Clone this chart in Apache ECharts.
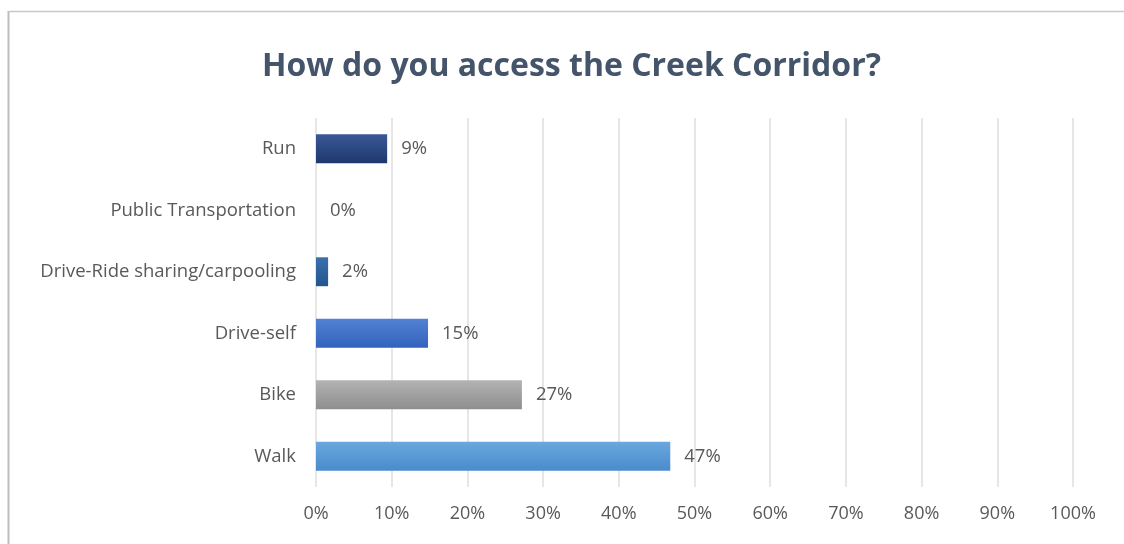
<!DOCTYPE html>
<html>
<head>
<meta charset="utf-8">
<script src="https://cdn.jsdelivr.net/npm/echarts@6/dist/echarts.min.js"></script>
<style>html,body{margin:0;padding:0;background:#fff}#c{width:1124px;height:544px}</style>
</head>
<body>
<div id="c"></div>
<script>
const titleText = 'How do you access the Creek Corridor?';
const categories = ['Walk', 'Bike', 'Drive-self', 'Drive-Ride sharing/carpooling', 'Public Transportation', 'Run'];
const values = [46.8, 27.2, 14.8, 1.6, 0, 9.4];
const barTop = ['#6aa7de', '#b3b3b3', '#5282d2', '#3a70ad', '#2f4f8f', '#3a5898'];
const barBottom = ['#4a8bcc', '#8e8e8e', '#3362bd', '#23548c', '#1f3a6e', '#1f386c'];
const tickValues = [0, 10, 20, 30, 40, 50, 60, 70, 80, 90, 100];

const chart = echarts.init(document.getElementById('c'));
const font = '"Open Sans", sans-serif';
chart.setOption({
  animation: false,
  title: {
    text: titleText, left: 262, top: 51, padding: 0,
    textStyle: { fontFamily: font, fontSize: 32, fontWeight: 'bold', color: '#44546a' }
  },
  graphic: [
    { type: 'line', shape: { x1: 8.5, y1: 11, x2: 8.5, y2: 544 }, style: { stroke: '#bdbdbd', lineWidth: 2 } },
    { type: 'line', shape: { x1: 8, y1: 11.5, x2: 1124, y2: 11.5 }, style: { stroke: '#c8c8c8', lineWidth: 1.5 } }
  ],
  grid: { left: 316, right: 51, top: 118, height: 369 },
  xAxis: {
    type: 'value', min: 0, max: 100, interval: 10,
    axisLine: { show: false }, axisTick: { show: false },
    splitLine: { lineStyle: { color: '#dedede', width: 1.5 } },
    axisLabel: { formatter: v => v + '%', color: '#595959', fontFamily: font, fontSize: 18, margin: 18 }
  },
  yAxis: {
    type: 'category', data: categories,
    axisLine: { show: false }, axisTick: { show: false },
    axisLabel: { color: '#595959', fontFamily: font, fontSize: 18.5, margin: 20 }
  },
  series: [{
    type: 'bar', barWidth: '47%',
    data: values.map((v, i) => ({
      value: v,
      itemStyle: {
        color: new echarts.graphic.LinearGradient(0, 0, 0, 1, [
          { offset: 0, color: barTop[i] }, { offset: 1, color: barBottom[i] }
        ])
      }
    })),
    label: {
      show: true, position: 'right', distance: 14,
      formatter: p => Math.round(p.value) + '%',
      color: '#595959', fontFamily: font, fontSize: 18.5
    }
  }]
});
</script>
</body>
</html>
